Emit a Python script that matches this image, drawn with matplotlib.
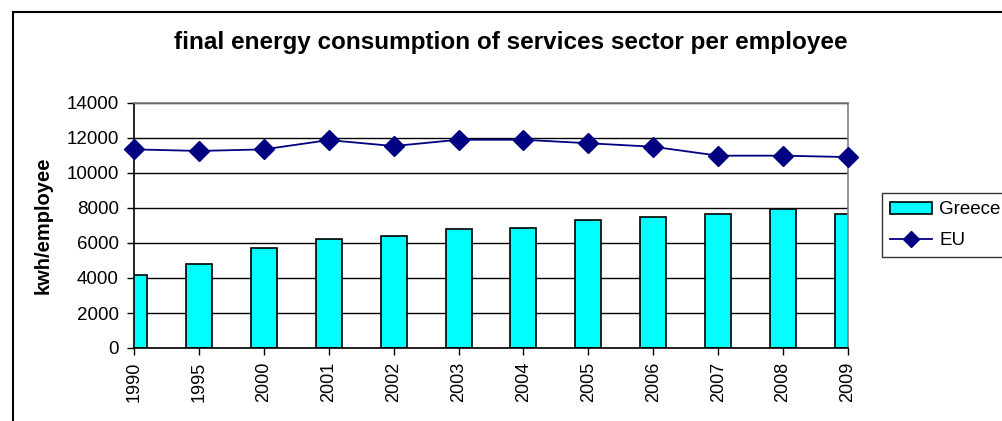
import matplotlib
matplotlib.use("Agg")
import matplotlib.pyplot as plt
from matplotlib.patches import Rectangle
from matplotlib.lines import Line2D
import numpy as np

years = ["1990", "1995", "2000", "2001", "2002", "2003", "2004", "2005", "2006", "2007", "2008", "2009"]
greece = [4200, 4800, 5700, 6250, 6420, 6780, 6850, 7300, 7470, 7640, 7920, 7640]
eu = [11350, 11260, 11350, 11880, 11540, 11900, 11900, 11700, 11500, 10990, 10990, 10910]

plt.rcParams['font.family'] = ['Liberation Sans', 'DejaVu Sans']

W, H = 1003, 421
fig = plt.figure(figsize=(W / 100, H / 100), dpi=100)
ax = fig.add_axes([134 / W, 1 - 348 / H, (848 - 134) / W, (348 - 103) / H])

x = np.arange(len(years))
ax.bar(x, greece, width=0.4, color="#00FFFF", edgecolor="black", linewidth=1.2, zorder=2, label="Greece")
ax.plot(x, eu, color="#000080", marker="D", markersize=10, linewidth=1.3, zorder=4, clip_on=False, label="EU")

ax.set_xlim(0, len(years) - 1)
ax.set_ylim(0, 14000)
ax.set_yticks(np.arange(0, 14001, 2000))
ax.set_xticks(x)
ax.set_xticklabels(years, rotation=90, fontsize=13)
ax.tick_params(axis="y", labelsize=13.5, length=5, direction="out", width=1, pad=6)
ax.tick_params(axis="x", length=5, direction="out", width=1, pad=5)
ax.yaxis.grid(True, color="black", linewidth=1, zorder=1)
ax.set_axisbelow(True)
for s in ["top", "right"]:
    ax.spines[s].set_color("#808080")
    ax.spines[s].set_linewidth(1.2)
for s in ["left", "bottom"]:
    ax.spines[s].set_color("black")
    ax.spines[s].set_linewidth(1.2)
ax.set_ylabel("kwh/employee", fontsize=14.5, fontweight="bold", labelpad=10)

fig.text(511 / W, 1 - 42 / H, "final energy consumption of services sector per employee",
         ha="center", va="center", fontsize=17.5, fontweight="bold")

# legend
handles = [Rectangle((0, 0), 1, 1, facecolor="#00FFFF", edgecolor="black", linewidth=1.2),
           Line2D([], [], color="#000080", marker="D", markersize=8, linewidth=1.3)]
leg = fig.legend(handles, ["Greece", "EU"], loc="upper left", bbox_to_anchor=(882 / W, 1 - 193 / H),
                 fontsize=13.5, frameon=True, fancybox=False, edgecolor="black",
                 borderpad=0.45, borderaxespad=0, handlelength=2.2, handleheight=0.6,
                 handletextpad=0.4, labelspacing=0.72)
leg.get_frame().set_linewidth(1)

# outer chart border
fig.add_artist(Rectangle((13 / W, -0.5), 2, 1 - 12 / H + 0.5, transform=fig.transFigure,
                         fill=False, edgecolor="black", linewidth=1.5))

fig.savefig("out.png", dpi=100)
